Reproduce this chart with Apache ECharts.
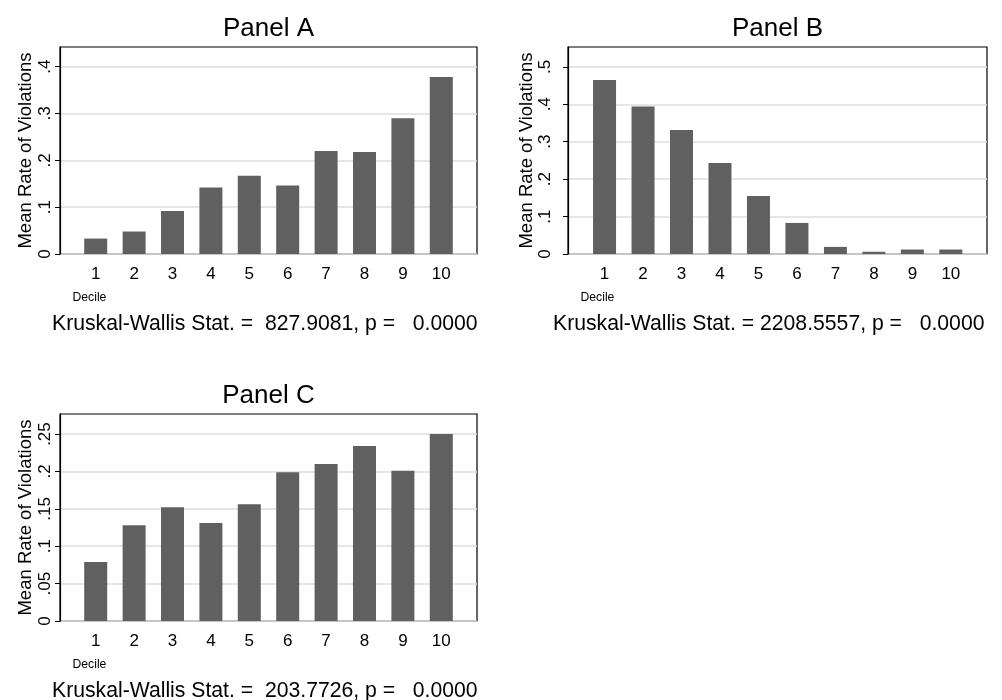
<!DOCTYPE html>
<html>
<head>
<meta charset="utf-8">
<script src="https://cdn.jsdelivr.net/npm/echarts@6/dist/echarts.min.js"></script>
<style>
  html, body { margin: 0; padding: 0; background: #fff; }
  #chart { width: 1002px; height: 700px; }
</style>
</head>
<body>
<div id="chart"></div>
<script>
// deciles on the x axis
var deciles = [1, 2, 3, 4, 5, 6, 7, 8, 9, 10]

// mean rate of violations per decile
var panelA = [0.033, 0.048, 0.092, 0.142, 0.167, 0.146, 0.220, 0.218, 0.290, 0.378]
var panelB = [0.465, 0.394, 0.331, 0.243, 0.155, 0.083, 0.019, 0.006, 0.012, 0.012]
var panelC = [0.079, 0.128, 0.152, 0.131, 0.156, 0.199, 0.210, 0.234, 0.201, 0.250]

// y tick labels
var ticksA = [0, 0.1, 0.2, 0.3, 0.4]
var ticksB = [0, 0.1, 0.2, 0.3, 0.4, 0.5]
var ticksC = [0, 0.05, 0.1, 0.15, 0.2, 0.25]

var panelTitles = ['Panel A', 'Panel B', 'Panel C']
var notes = [
  'Kruskal-Wallis Stat. =  827.9081, p =   0.0000',
  'Kruskal-Wallis Stat. = 2208.5557, p =   0.0000',
  'Kruskal-Wallis Stat. =  203.7726, p =   0.0000'
]

var FONT = '"Liberation Sans", Arial, sans-serif'
var barColor = '#606060'

// stata style: .1 instead of 0.1
function stataNum (v) {
  var s = String(+v.toFixed(3))
  return s.replace(/^0\./, '.')
}

// plot region of each panel
var grids = [
  { left: 60, top: 47, width: 417, height: 207 },
  { left: 568, top: 47, width: 419, height: 207 },
  { left: 60, top: 414, width: 417, height: 207 }
]
var yMax = [0.442, 0.553, 0.2768]
var yTicks = [ticksA, ticksB, ticksC]
var yStep = [0.1, 0.1, 0.05]
var labelMargin = [6, 14, 6]
var nameGap = [25, 23, 25]
var xRange = [[0.07, 10.93], [0.05, 10.94], [0.07, 10.93]]
var values = [panelA, panelB, panelC]

var xAxes = []
var yAxes = []
var series = []
var graphics = []

for (let i = 0; i < 3; i++) {
  let g = grids[i]
  xAxes.push({
    type: 'value',
    gridIndex: i,
    min: xRange[i][0],
    max: xRange[i][1],
    axisLine: { show: false },
    axisTick: { show: false },
    splitLine: { show: false },
    axisLabel: {
      customValues: deciles,
      margin: 12,
      color: '#000',
      fontFamily: FONT,
      fontSize: 17
    }
  })
  yAxes.push({
    type: 'value',
    gridIndex: i,
    min: 0,
    max: yMax[i],
    interval: yStep[i],
    name: 'Mean Rate of Violations',
    nameLocation: 'middle',
    nameRotate: 90,
    nameGap: nameGap[i],
    nameTextStyle: { color: '#000', fontFamily: FONT, fontSize: 18.5 },
    axisLine: { show: true, lineStyle: { color: '#000', width: 1.2 } },
    axisTick: { show: true, length: 5, customValues: yTicks[i], lineStyle: { color: '#000' } },
    splitLine: { show: true, lineStyle: { color: '#dedede', width: 1.5 } },
    axisLabel: {
      customValues: yTicks[i],
      rotate: 90,
      margin: labelMargin[i],
      color: '#000',
      fontFamily: FONT,
      fontSize: 17,
      formatter: function (v) { return stataNum(v) }
    }
  })
  series.push({
    type: 'bar',
    xAxisIndex: i,
    yAxisIndex: i,
    barWidth: 23,
    itemStyle: { color: barColor },
    silent: true,
    data: deciles.map((d, k) => [d, values[i][k]])
  })

  // panel title, x axis title and the test note
  graphics.push({
    type: 'text',
    x: g.left + g.width / 2,
    y: g.top - 18,
    style: { text: panelTitles[i], fill: '#000', font: '26px ' + FONT, textAlign: 'center', textVerticalAlign: 'middle' }
  })
  graphics.push({
    type: 'text',
    x: g.left + 12.5,
    y: g.top + 250.5,
    style: { text: 'Decile', fill: '#000', font: '12.2px ' + FONT, textAlign: 'left', textVerticalAlign: 'middle' }
  })
  graphics.push({
    type: 'text',
    x: (i === 1 ? 553 : 52),
    y: g.top + 277,
    style: { text: notes[i], fill: '#000', font: '21.2px ' + FONT, textAlign: 'left', textVerticalAlign: 'middle' }
  })
}

var myChart = echarts.init(document.getElementById('chart'), null, { renderer: 'canvas' })
var option = {
  backgroundColor: '#fff',
  animation: false,
  grid: grids.map(g => Object.assign({
    show: true,
    borderColor: '#000',
    borderWidth: 1.2,
    backgroundColor: 'transparent',
    containLabel: false
  }, g)),
  xAxis: xAxes,
  yAxis: yAxes,
  series: series,
  graphic: graphics
}
myChart.setOption(option)
</script>
</body>
</html>
